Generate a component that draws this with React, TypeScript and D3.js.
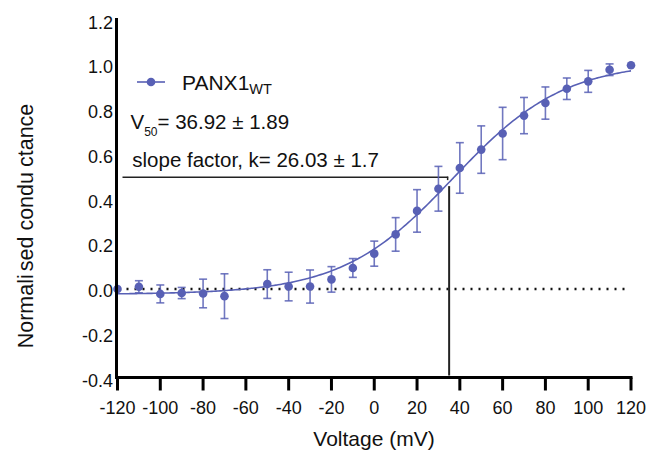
import React from "react";
import * as d3 from "d3";

const voltages = [-120, -110, -100, -90, -80, -70, -50, -40, -30, -20, -10, 0, 10, 20, 30, 40, 50, 60, 70, 80, 90, 100, 110, 120];
const means = [0.0, 0.01, -0.022, -0.018, -0.02, -0.032, 0.022, 0.011, 0.011, 0.043, 0.094, 0.158, 0.244, 0.349, 0.448, 0.541, 0.623, 0.695, 0.775, 0.831, 0.895, 0.928, 0.98, 1.0];
const errors = [0, 0.027, 0.04, 0.025, 0.064, 0.1, 0.064, 0.064, 0.074, 0.057, 0.042, 0.056, 0.075, 0.095, 0.1, 0.113, 0.106, 0.117, 0.081, 0.072, 0.048, 0.049, 0.026, 0];
const xTicks = [-120, -100, -80, -60, -40, -20, 0, 20, 40, 60, 80, 100, 120];
const yTicks = [-0.4, -0.2, 0.0, 0.2, 0.4, 0.6, 0.8, 1.0, 1.2];
const fitV50 = 36.92;
const fitK = 26.03;
const fitMin = -0.024;
const fitMax = 1.016;
const markerV = 35;
const markerG = 0.5;

const BLUE = "#5860b5";
const FONT = "Liberation Sans, Arial, sans-serif";

export default function App() {
  const x = d3.scaleLinear().domain([-120, 120]).range([117.5, 631]);
  const y = d3.scaleLinear().domain([-0.4, 1.2]).range([378.5, 20.5]);

  const boltz = (v: number) => fitMin + (fitMax - fitMin) / (1 + Math.exp((fitV50 - v) / fitK));
  const curveV = d3.range(-120, 120.01, 1);
  const line = d3.line<number>().x((v) => x(v)).y((v) => y(boltz(v))).curve(d3.curveBasis);

  const x0 = x(-120);
  const axisY = y(-0.4) - 1;

  return (
    <svg width={648} height={450} style={{ position: "absolute", left: 0, top: 0, background: "#fff" }} fontFamily={FONT}>
      <rect x={0} y={0} width={648} height={450} fill="#fff" />
      {/* zero dotted line */}
      <line x1={x0 + 9} x2={x(119)} y1={y(0)} y2={y(0)} stroke="#111" strokeWidth={2.5} strokeDasharray="2 6" />
      {/* annotation lines */}
      <line x1={x0 + 5} x2={x(markerV) - 1} y1={y(markerG)} y2={y(markerG)} stroke="#222" strokeWidth={1.5} />
      <line x1={x(markerV) - 1.5} x2={x(markerV) - 1.5} y1={y(markerG) - 0.5} y2={y(markerG) + 3} stroke="#222" strokeWidth={1.5} />
      <line x1={x(markerV)} x2={x(markerV)} y1={y(markerG) + 9} y2={axisY - 2} stroke="#222" strokeWidth={2} />
      {/* fit curve */}
      <path d={line(curveV) || ""} fill="none" stroke={BLUE} strokeWidth={1.6} />
      {/* error bars */}
      {voltages.map((v, i) =>
        errors[i] > 0 ? (
          <g key={"e" + i} stroke={BLUE} strokeWidth={1.6} strokeOpacity={0.85}>
            <line x1={x(v)} x2={x(v)} y1={y(means[i] + errors[i])} y2={y(means[i] - errors[i])} />
            <line x1={x(v) - 4} x2={x(v) + 4} y1={y(means[i] + errors[i])} y2={y(means[i] + errors[i])} />
            <line x1={x(v) - 4} x2={x(v) + 4} y1={y(means[i] - errors[i])} y2={y(means[i] - errors[i])} />
          </g>
        ) : null
      )}
      {/* points */}
      {voltages.map((v, i) => (
        <circle key={"p" + i} cx={x(v)} cy={y(means[i])} r={4.3} fill={BLUE} />
      ))}
      {/* axes */}
      <line x1={116.5} x2={116.5} y1={18} y2={axisY + 1.5} stroke="#000" strokeWidth={3} />
      <line x1={115} x2={632.5} y1={axisY} y2={axisY} stroke="#000" strokeWidth={3} />
      {xTicks.map((t) => (
        <g key={"xt" + t}>
          <line x1={x(t)} x2={x(t)} y1={axisY} y2={axisY + 13} stroke="#000" strokeWidth={3} />
          <text x={x(t)} y={413.5} fontSize={18} textAnchor="middle" fill="#111">{t}</text>
        </g>
      ))}
      {yTicks.map((t) => (
        <text key={"yt" + t} x={113} y={y(t) + 8} fontSize={18} textAnchor="end" fill="#111">{t.toFixed(1)}</text>
      ))}
      {/* axis titles */}
      <text x={374} y={446} fontSize={21} textAnchor="middle" fill="#111">Voltage (mV)</text>
      <text transform="translate(33,226) rotate(-90)" fontSize={21.5} textAnchor="middle" fill="#111">
        Normali<tspan dx={3}>sed</tspan> condu<tspan dx={5}>ctance</tspan>
      </text>
      {/* legend */}
      <line x1={137} x2={165} y1={82} y2={82} stroke={BLUE} strokeWidth={1.6} />
      <circle cx={151} cy={82} r={4.3} fill={BLUE} />
      <text x={182} y={89.5} fontSize={21} fill="#111">
        PANX1<tspan fontSize={14.5} dy={4}>WT</tspan>
      </text>
      <text x={130.5} y={129.3} fontSize={20.5} fill="#111">
        V<tspan fontSize={12} dy={7}>50</tspan><tspan dy={-7}>= 36.92 ± 1.89</tspan>
      </text>
      <text x={132.3} y={166.5} fontSize={20.5} fill="#111">slope factor, k= 26.03 ± 1.7</text>
    </svg>
  );
}
